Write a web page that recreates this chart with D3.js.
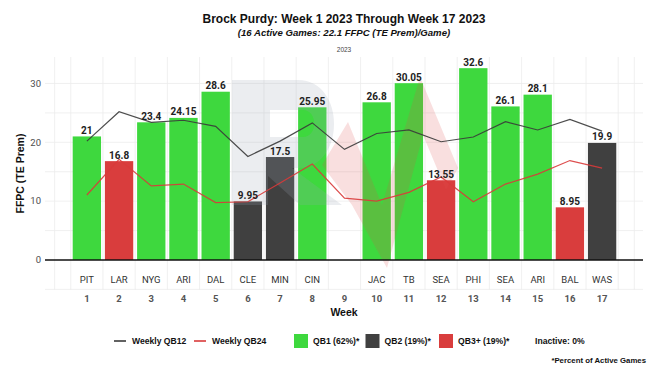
<!DOCTYPE html>
<html><head><meta charset="utf-8">
<script src="https://cdn.jsdelivr.net/npm/d3@7"></script>
<style>body{margin:0;background:#fff}svg{display:block}</style>
</head><body><div id="chart"></div>
<script>
const weeks = [1,2,3,4,5,6,7,8,9,10,11,12,13,14,15,16,17];
const opponents = ["PIT","LAR","NYG","ARI","DAL","CLE","MIN","CIN","","JAC","TB","SEA","PHI","SEA","ARI","BAL","WAS"];
const points = [21,16.8,23.4,24.15,28.6,9.95,17.5,25.95,null,26.8,30.05,13.55,32.6,26.1,28.1,8.95,19.9];
const tiers = ["QB1","QB3+","QB1","QB1","QB1","QB2","QB2","QB1",null,"QB1","QB1","QB3+","QB1","QB1","QB1","QB3+","QB2"];
const qb12 = [20.2,25.2,23.4,23.75,22.7,17.6,20.2,23.3,18.8,21.5,22.1,20.1,20.9,23.5,22.1,23.9,21.9];
const qb24 = [11.05,17.1,12.6,12.9,9.75,9.9,13.1,16.3,10.5,10.0,11.5,14.1,9.9,12.9,14.6,16.9,15.6];
const yTicks = [0,10,20,30];
const tierNames = ["QB1","QB2","QB3+"];
const tierLegend = ["QB1 (62%)*","QB2 (19%)*","QB3+ (19%)*"];
const lineLegend = ["Weekly QB12","Weekly QB24"];

const W = 649, H = 369;
const L = 45, R = 643, T = 57, B = 290;
const svg = d3.select("#chart").append("svg").attr("width", W).attr("height", H);
const x = d3.scaleLinear().domain([-0.3, 18.27]).range([L, R]);
const y = d3.scaleLinear().domain([-5.1, 34.5]).range([B, T]);
const color = d3.scaleOrdinal().domain(tierNames).range(["#3ed83e", "#404040", "#d93d3d"]);
const lineColor = d3.scaleOrdinal().domain(lineLegend).range(["#3a3a3a", "#d93a3a"]);
const sans = "'Liberation Sans', Arial, sans-serif";
const rob = "Roboto, 'Liberation Sans', sans-serif";

// grid
const vg = [0]; for (let i = 0; i < 18; i++) vg.push(i + 0.5); vg.push(18);
svg.append("g").selectAll("line").data(vg).join("line")
  .attr("x1", d => x(d)).attr("x2", d => x(d)).attr("y1", T).attr("y2", B)
  .attr("stroke", "#ececec").attr("stroke-width", 0.8);
svg.append("g").selectAll("line").data([-5,5,10,15,20,25,30]).join("line")
  .attr("x1", L).attr("x2", R).attr("y1", d => y(d)).attr("y2", d => y(d))
  .attr("stroke", "#ececec").attr("stroke-width", 0.8);

// y axis labels
svg.append("g").selectAll("text").data(yTicks).join("text")
  .attr("x", 41).attr("y", d => y(d)).attr("dy", "0.35em").attr("text-anchor", "end")
  .attr("font-family", rob).attr("font-size", 9.5).attr("fill", "#4d4d4d").text(d => d);

// bars
const data = weeks.map((w, i) => ({w, opp: opponents[i], v: points[i], t: tiers[i]}));
const bw = x(0.44) - x(-0.44);
svg.append("g").selectAll("rect").data(data.filter(d => d.v != null)).join("rect")
  .attr("x", d => x(d.w) - bw / 2).attr("width", bw)
  .attr("y", d => y(d.v)).attr("height", d => y(0) - y(d.v))
  .attr("fill", d => color(d.t));

// watermark
const wm = svg.append("g");
wm.append("path").attr("fill", "#9aa3b5").attr("fill-opacity", 0.2).attr("fill-rule", "evenodd")
  .attr("d", "M232,80 L298,80 C346,80 346,168 298,168 L292,168 L342,205 L300,205 L268,176 L268,205 L232,205 Z M270,110 L303,110 C318,110 318,137 303,137 L270,137 Z");
wm.append("path").attr("fill", "#e05050").attr("fill-opacity", 0.18)
  .attr("d", "M322,165 L348,122 L382,205 L420,77 L458,168 L446,190 L423,135 L387,268 L352,205 Z");

// lines
const line = d3.line().x((d, i) => x(weeks[i])).y(d => y(d));
svg.append("path").datum(qb12).attr("d", line).attr("fill", "none")
  .attr("stroke", lineColor("Weekly QB12")).attr("stroke-width", 1.2).attr("stroke-opacity", 0.9);
svg.append("path").datum(qb24).attr("d", line).attr("fill", "none")
  .attr("stroke", lineColor("Weekly QB24")).attr("stroke-width", 1.2).attr("stroke-opacity", 0.9);

// zero line
svg.append("line").attr("x1", L).attr("x2", R).attr("y1", y(0)).attr("y2", y(0))
  .attr("stroke", "#111").attr("stroke-width", 1.6);

// bar labels
svg.append("g").selectAll("text").data(data.filter(d => d.v != null)).join("text")
  .attr("x", d => x(d.w)).attr("y", d => y(d.v) - 2.5).attr("text-anchor", "middle")
  .attr("font-family", rob).attr("font-weight", "bold").attr("font-size", 10).attr("fill", "#222")
  .text(d => d.v);

// team labels & week numbers
svg.append("g").selectAll("text").data(data).join("text")
  .attr("x", d => x(d.w)).attr("y", 280).attr("dy", "0.35em").attr("text-anchor", "middle")
  .attr("font-family", rob).attr("font-size", 9.5).attr("fill", "#333").text(d => d.opp);
svg.append("g").selectAll("text").data(weeks).join("text")
  .attr("x", d => x(d)).attr("y", 299).attr("dy", "0.35em").attr("text-anchor", "middle")
  .attr("font-family", rob).attr("font-weight", "bold").attr("font-size", 9.5).attr("fill", "#555").text(d => d);

const cx = (L + R) / 2;
svg.append("text").attr("x", cx).attr("y", 312).attr("dy", "0.35em").attr("text-anchor", "middle")
  .attr("font-family", sans).attr("font-weight", "bold").attr("font-size", 10.5).attr("fill", "#111").text("Week");
svg.append("text").attr("transform", `translate(20,${(T + B) / 2}) rotate(-90)`).attr("dy", "0.35em")
  .attr("text-anchor", "middle").attr("font-family", sans).attr("font-weight", "bold").attr("font-size", 10.5)
  .attr("fill", "#111").text("FFPC (TE Prem)");

// titles
svg.append("text").attr("x", cx).attr("y", 19).attr("dy", "0.35em").attr("text-anchor", "middle")
  .attr("font-family", sans).attr("font-weight", "bold").attr("font-size", 12).attr("fill", "#111")
  .text("Brock Purdy: Week 1 2023 Through Week 17 2023");
svg.append("text").attr("x", cx).attr("y", 33).attr("dy", "0.35em").attr("text-anchor", "middle")
  .attr("font-family", sans).attr("font-weight", "bold").attr("font-style", "italic").attr("font-size", 9.6).attr("fill", "#111")
  .text("(16 Active Games: 22.1 FFPC (TE Prem)/Game)");
svg.append("text").attr("x", cx).attr("y", 50).attr("dy", "0.35em").attr("text-anchor", "middle")
  .attr("font-family", sans).attr("font-size", 6.5).attr("fill", "#444").text("2023");

// legend
const ly = 341;
const lg = svg.append("g").attr("font-family", sans).attr("font-weight", "bold").attr("font-size", 8.6).attr("fill", "#111");
const lineX = [114, 194];
lineLegend.forEach((n, i) => {
  lg.append("line").attr("x1", lineX[i]).attr("x2", lineX[i] + 12).attr("y1", ly).attr("y2", ly)
    .attr("stroke", lineColor(n)).attr("stroke-width", 1.6);
  lg.append("text").attr("x", lineX[i] + 18).attr("y", ly).attr("dy", "0.35em").text(n);
});
const sqX = [294, 365.5, 439];
tierNames.forEach((n, i) => {
  lg.append("rect").attr("x", sqX[i]).attr("y", ly - 7).attr("width", 14).attr("height", 14).attr("fill", color(n));
  lg.append("text").attr("x", sqX[i] + 19).attr("y", ly).attr("dy", "0.35em").text(tierLegend[i]);
});
lg.append("text").attr("x", 535).attr("y", ly).attr("dy", "0.35em").text("Inactive: 0%");
svg.append("text").attr("x", 646).attr("y", 360).attr("dy", "0.35em").attr("text-anchor", "end")
  .attr("font-family", sans).attr("font-weight", "bold").attr("font-size", 7.8).attr("fill", "#111")
  .text("*Percent of Active Games");
</script></body></html>
